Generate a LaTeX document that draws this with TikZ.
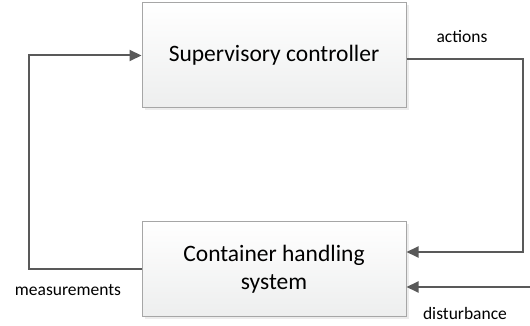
\documentclass[tikz,border=0pt]{standalone}
\usepackage{fontspec}
\setmainfont{Carlito}
\usetikzlibrary{arrows.meta,shadows}
\definecolor{lineg}{HTML}{595959}
\definecolor{boxb}{HTML}{A6A6A6}
\definecolor{boxlo}{HTML}{EDEEEE}
\tikzset{
  blockbox/.style={draw=boxb, line width=1pt, top color=white, bottom color=boxlo,
    drop shadow={shadow xshift=2.5pt, shadow yshift=-2.5pt, opacity=0.15},
    minimum width=264pt, align=center, font=\fontsize{23.5}{28}\selectfont, inner sep=0pt},
  conn/.style={draw=lineg, line width=2pt, -{Triangle[length=12pt,width=11pt]}},
  lbl/.style={font=\fontsize{17.5}{20}\selectfont, text=black, inner sep=0pt}
}
\begin{document}
\begin{tikzpicture}[x=1pt,y=1pt]
\useasboundingbox (0,0) rectangle (530,326);
\node[blockbox, minimum height=105pt] (sup) at (274,270.5) {Supervisory controller};
\node[blockbox, minimum height=95pt] (chs) at (274,56.5) {Container handling\\system};
\coordinate (lt) at (29,270.5);
\coordinate (lb) at (29,56.5);
\coordinate (rt) at (523,267);
\coordinate (rb) at (523,74);
\coordinate (dist) at (531,39);
\draw[conn] (chs.west) -- (lb) -- (lt) -- (sup.west);
\draw[conn] (sup.east |- rt) -- (rt) -- (rb) -- (chs.east |- rb);
\draw[conn] (dist) -- (chs.east |- dist);
\node[lbl] (act) at (462,289) {actions};
\node[lbl] (dis) at (465,13) {disturbance};
\node[lbl] (mea) at (68,36) {measurements};
\end{tikzpicture}
\end{document}
